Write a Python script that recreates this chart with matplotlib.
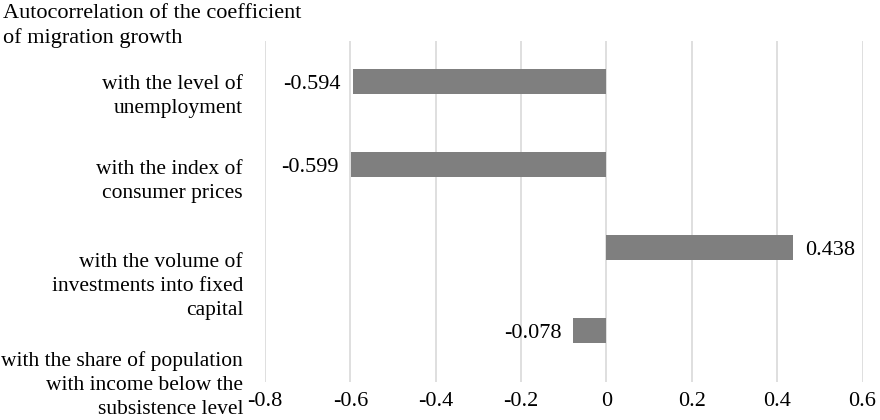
#!/usr/bin/env python3
"""Autocorrelation of the coefficient of migration growth, horizontal bars."""
import matplotlib
matplotlib.use("Agg")
import matplotlib.pyplot as plt
import matplotlib.transforms as mtransforms

plt.rcParams["font.family"] = ["Liberation Serif", "DejaVu Serif"]

TITLE = "Autocorrelation of the coefficient\nof migration growth"
categories = [
    "with the level of\nunemployment",
    "with the index of\nconsumer prices",
    "with the volume of\ninvestments into fixed\ncapital",
    "with the share of population\nwith income below the\nsubsistence level",
]
values = [-0.594, -0.599, 0.438, -0.078]
value_labels = ["-0.594", "-0.599", "0.438", "-0.078"]
x_ticks = [-0.8, -0.6, -0.4, -0.2, 0, 0.2, 0.4, 0.6]
x_tick_labels = ["-0.8", "-0.6", "-0.4", "-0.2", "0", "0.2", "0.4", "0.6"]
# category labels sit a bit below the bars in the original
label_shift = [0.185, 0.2, 0.465, 0.655]

BAR_COLOR = "#7f7f7f"
GRID_COLOR = "#d9d9d9"
FS = 16

# plot area in pixels (left, top, right, bottom)
L, T, R, B = 265, 41, 862.5, 382


def main() -> None:
    fig = plt.figure(figsize=(8.8, 4.2), dpi=100)
    ax = fig.add_axes([L / 880, 1 - B / 420, (R - L) / 880, (B - T) / 420])

    ypos = list(range(len(values)))
    bars = ax.barh(ypos, values, height=0.3, color=BAR_COLOR, zorder=3)

    for bar, val, txt in zip(bars, values, value_labels):
        y = bar.get_y() + bar.get_height() / 2
        off = 8.5 if val >= 0 else -8.5
        ax.annotate(txt, (val, y), xytext=(off, 0), textcoords="offset points",
                    ha="left" if val >= 0 else "right", va="center_baseline",
                    fontsize=FS)

    ax.set_xlim(-0.8, 0.6)
    ax.set_ylim(3.62, -0.488)
    ax.set_xticks(x_ticks)
    ax.set_xticklabels(x_tick_labels, fontsize=FS)
    ax.set_yticks([])
    ax.tick_params(axis="x", length=0, pad=7.5)
    ax.grid(axis="x", color=GRID_COLOR, linewidth=1.2, zorder=0)
    for sp in ax.spines.values():
        sp.set_visible(False)

    trans = mtransforms.blended_transform_factory(ax.transAxes, ax.transData)
    for i, (lab, sh) in enumerate(zip(categories, label_shift)):
        ax.text(-22 / (R - L), i + sh, lab, transform=trans, ha="right", va="center",
                multialignment="right", fontsize=15.5, linespacing=1.35, clip_on=False)

    fig.text(3 / 880, 1 - 4 / 420, TITLE, ha="left", va="top", fontsize=FS,
             linespacing=1.35)

    fig.savefig("out.png", dpi=100)
    plt.close(fig)


if __name__ == "__main__":
    main()
